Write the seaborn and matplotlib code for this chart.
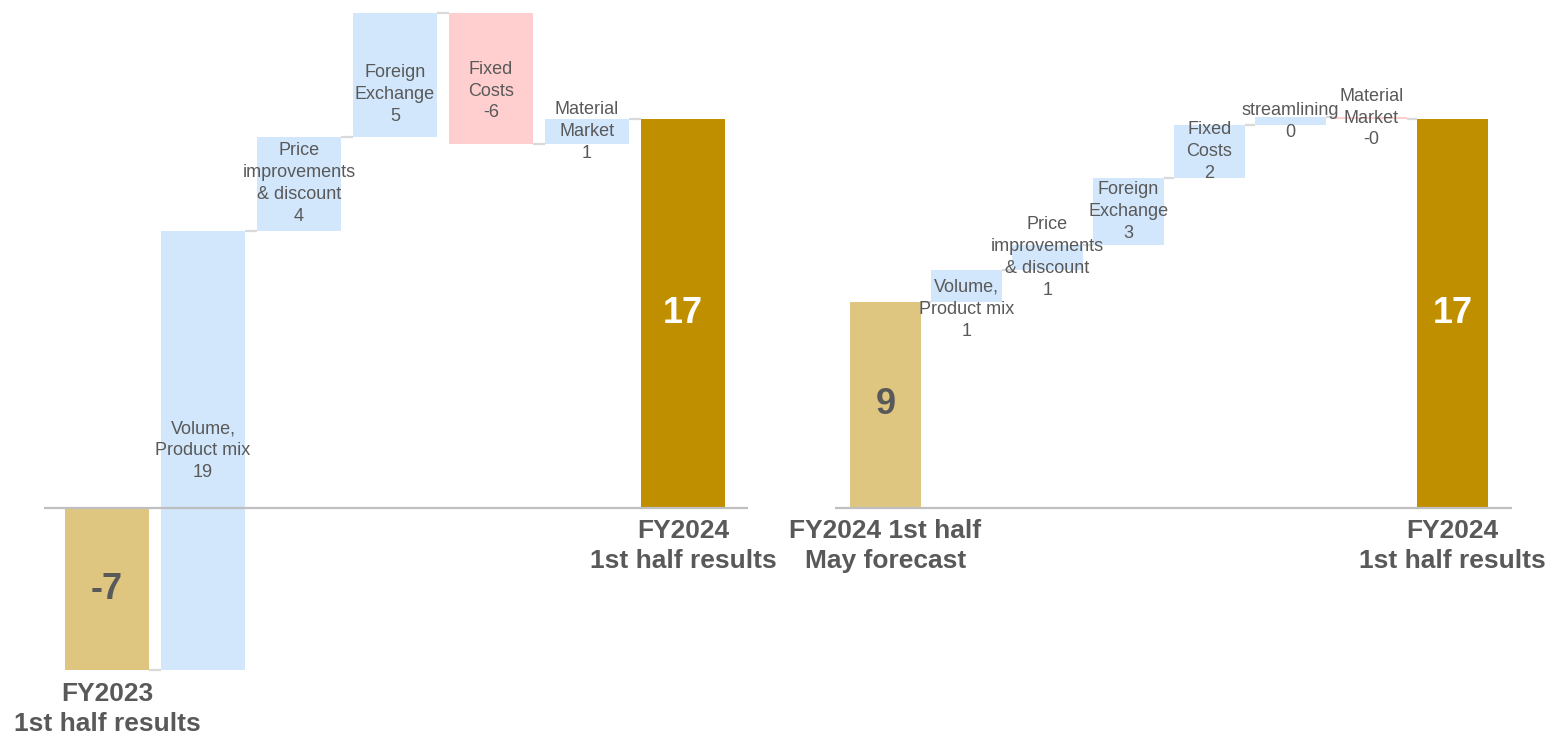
import matplotlib
matplotlib.use("Agg")
import matplotlib.pyplot as plt
import numpy as np
import pandas as pd
import seaborn as sns

# ---- data -------------------------------------------------------------
# Left bridge: FY2023 1st half results -> FY2024 1st half results
left_start_label = "FY2023\n1st half results"
left_end_label = "FY2024\n1st half results"
left_steps = ["Volume,\nProduct mix", "Price\nimprovements\n& discount",
              "Foreign\nExchange", "Fixed\nCosts", "Material\nMarket"]
left_start = -7.1
left_deltas = [19.2, 4.1, 5.4, -5.7, 1.1]
left_end = 17.0

# Right bridge: FY2024 1st half May forecast -> FY2024 1st half results
right_start_label = "FY2024 1st half\nMay forecast"
right_end_label = "FY2024\n1st half results"
right_steps = ["Volume,\nProduct mix", "Price\nimprovements\n& discount",
               "Foreign\nExchange", "Fixed\nCosts", "streamlining",
               "Material\nMarket"]
right_start = 9.0
right_deltas = [1.4, 1.1, 2.9, 2.3, 0.35, -0.05]
right_end = 17.0

# ---- style ------------------------------------------------------------
sns.set_style("white")
plt.rcParams["font.family"] = ["Liberation Sans", "DejaVu Sans"]

TEXT = "#595959"
START_C = "#DFC680"
END_C = "#BF8F00"
UP_C = "#D2E7FC"
DOWN_C = "#FFCFCF"
LINK_C = "#D9D9D9"
AXIS_C = "#BFBFBF"
BAR_W = 0.875

W, H = 1547, 733
fig = plt.figure(figsize=(W / 100, H / 100), dpi=100)
YLIM = (-9.83, 22.18)


def waterfall(ax, start, deltas, end, steps, start_label, end_label,
              shifts, xlim):
    cats = [start_label] + steps + [end_label]
    heights = [start] + list(deltas) + [end]
    levels = np.cumsum([start] + list(deltas))
    bottoms = [0.0] + list(levels[:-1]) + [0.0]
    colors = ([START_C] + [UP_C if d >= 0 else DOWN_C for d in deltas]
              + [END_C])
    df = pd.DataFrame({"cat": cats, "height": heights})

    sns.barplot(data=df, x="cat", y="height", order=cats, ax=ax,
                errorbar=None, width=BAR_W, color=UP_C, saturation=1,
                bottom=bottoms, facecolor=colors, edgecolor="none",
                linewidth=0, zorder=2)

    # connectors between neighbouring bars
    after = list(levels) + [end]
    for i in range(len(cats) - 1):
        ax.plot([i + BAR_W / 2, i + 1 - BAR_W / 2], [after[i], after[i]],
                color=LINK_C, lw=1.6, zorder=1, solid_capstyle="butt")

    ax.axhline(0, color=AXIS_C, lw=1.6, zorder=3)

    # step labels
    for k, (name, d) in enumerate(zip(steps, deltas)):
        i = k + 1
        mid = bottoms[i] + d / 2
        ax.annotate(f"{name}\n{d:.0f}", (i, mid),
                    xytext=(0, -shifts.get(i, 0)), textcoords="offset points",
                    ha="center", va="center", fontsize=13, color=TEXT,
                    linespacing=1.38, zorder=4)

    # totals inside the end bars
    n = len(cats) - 1
    ax.text(0, start / 2, f"{start:.0f}", ha="center", va="center",
            fontsize=26, fontweight="bold", color=TEXT, zorder=4)
    ax.text(n, end / 2, f"{end:.0f}", ha="center", va="center",
            fontsize=26, fontweight="bold", color="white", zorder=4)

    # category captions under the end bars
    for i, (lab, v) in enumerate([(start_label, start), (end_label, end)]):
        xi = 0 if i == 0 else n
        ax.annotate(lab, (xi, min(0.0, v)), xytext=(0, -8),
                    textcoords="offset points", ha="center", va="top",
                    fontsize=19, fontweight="bold", color=TEXT,
                    linespacing=1.32, annotation_clip=False)

    ax.set_xlim(*xlim)
    ax.set_ylim(*YLIM)
    ax.set_xticks([])
    ax.set_yticks([])
    ax.set_xlabel("")
    ax.set_ylabel("")
    for s in ax.spines.values():
        s.set_visible(False)
    ax.patch.set_alpha(0)


ax_l = fig.add_axes([44 / W, 0, 704 / W, 1])
waterfall(ax_l, left_start, left_deltas, left_end, left_steps,
          left_start_label, left_end_label, {3: 14, 4: 9},
          (-0.656, 6.677))

ax_r = fig.add_axes([835 / W, 0, 677 / W, 1])
waterfall(ax_r, right_start, right_deltas, right_end, right_steps,
          right_start_label, right_end_label, {1: 17},
          (-0.623, 7.735))

fig.savefig("out.png", dpi=100)
